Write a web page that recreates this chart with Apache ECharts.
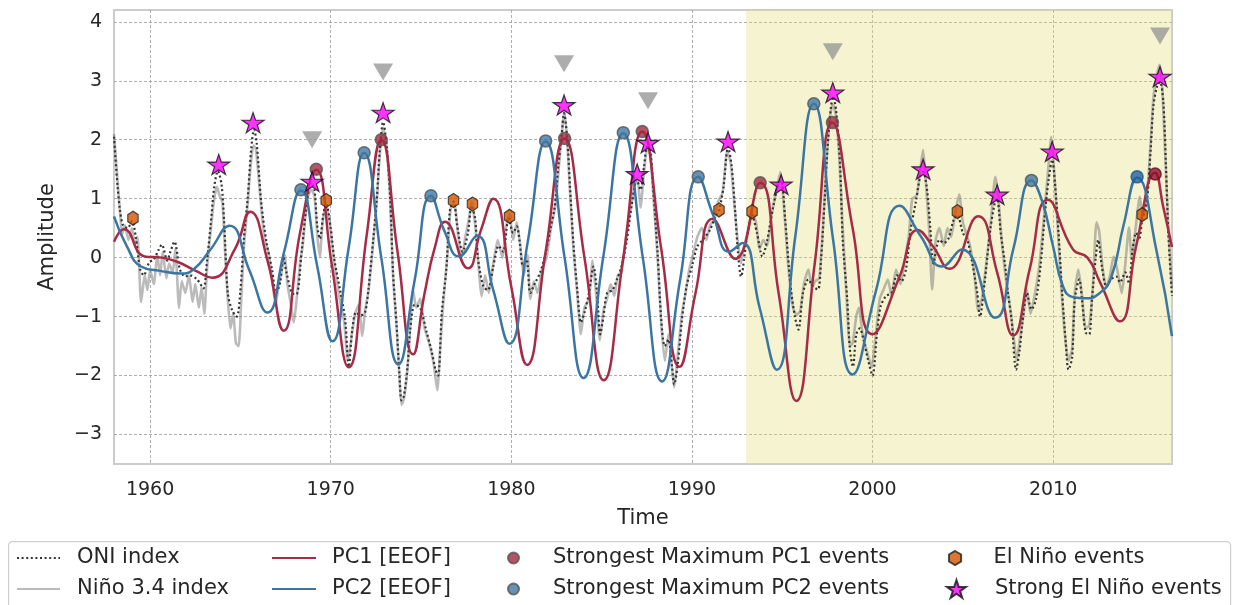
<!DOCTYPE html>
<html>
<head>
<meta charset="utf-8">
<title>ENSO EEOF principal components</title>
<script src="https://cdn.jsdelivr.net/npm/echarts@6/dist/echarts.min.js"></script>
<style>
  html, body { margin: 0; padding: 0; background: #fff; }
  #chart { width: 1233px; height: 605px; }
</style>
</head>
<body>
<div id="chart"></div>
<script>
// all series are [year, amplitude] pairs
const oniIndex = [
  [1958.0,2.05],[1958.2,1.2],[1958.33,0.81],[1958.5,0.55],[1958.75,0.5],[1959.0,0.62],[1959.2,0.36],[1959.45,-0.2],
  [1959.65,-0.3],[1959.95,-0.08],[1960.2,-0.03],[1960.45,0.12],[1960.65,0.22],[1960.95,-0.05],[1961.1,0.08],[1961.35,0.27],
  [1961.65,-0.2],[1961.95,-0.32],[1962.2,-0.3],[1962.6,-0.37],[1962.95,-0.52],[1963.15,-0.05],[1963.35,0.55],[1963.55,1.2],
  [1963.75,1.47],[1963.95,1.25],[1964.1,0.6],[1964.3,-0.6],[1964.55,-0.9],[1964.8,-1.0],[1965.0,-0.55],[1965.2,0.35],
  [1965.4,1.0],[1965.6,1.85],[1965.75,2.17],[1965.9,1.95],[1966.15,0.95],[1966.45,0.25],[1966.75,-0.2],[1966.97,-0.6],
  [1967.2,-0.42],[1967.38,0.0],[1967.55,-0.25],[1967.85,-0.6],[1968.1,-0.62],[1968.4,0.14],[1968.7,0.98],[1968.92,1.27],
  [1969.1,1.15],[1969.25,0.55],[1969.4,0.32],[1969.6,0.75],[1969.75,0.92],[1970.0,0.5],[1970.2,-0.03],[1970.55,-0.6],
  [1970.8,-1.05],[1971.0,-1.85],[1971.2,-1.2],[1971.4,-0.93],[1971.65,-0.98],[1971.9,-0.93],[1972.1,-0.5],[1972.35,0.3],
  [1972.55,0.98],[1972.72,1.83],[1972.9,2.3],[1973.1,1.9],[1973.3,0.98],[1973.45,-0.25],[1973.65,-1.15],[1973.8,-1.95],
  [1973.92,-2.42],[1974.05,-2.35],[1974.25,-1.86],[1974.4,-1.22],[1974.65,-0.8],[1974.95,-0.85],[1975.3,-1.25],[1975.6,-1.6],
  [1975.8,-1.9],[1975.95,-2.0],[1976.15,-0.93],[1976.4,-0.2],[1976.6,0.8],[1976.8,0.95],[1977.0,0.55],[1977.3,0.1],
  [1977.6,0.42],[1977.8,0.88],[1978.0,0.65],[1978.15,0.0],[1978.45,-0.49],[1978.7,-0.55],[1979.0,-0.15],[1979.3,0.2],
  [1979.55,0.1],[1979.85,0.68],[1980.1,0.42],[1980.3,0.53],[1980.45,0.3],[1980.65,-0.15],[1980.85,-0.03],[1981.05,-0.6],
  [1981.3,-0.44],[1981.6,-0.25],[1981.9,0.08],[1982.15,0.47],[1982.4,0.86],[1982.6,1.55],[1982.78,2.05],[1982.92,2.45],
  [1983.1,2.0],[1983.25,1.2],[1983.45,0.19],[1983.65,-0.54],[1983.85,-1.1],[1984.05,-0.93],[1984.3,-0.6],[1984.55,-0.15],
  [1984.75,-0.6],[1984.92,-1.3],[1985.1,-1.0],[1985.3,-0.6],[1985.6,-0.55],[1985.85,-0.37],[1986.1,-0.15],[1986.4,0.3],
  [1986.65,0.86],[1986.95,1.32],[1987.15,1.15],[1987.35,1.55],[1987.52,1.88],[1987.7,1.8],[1987.85,1.2],[1988.1,0.08],
  [1988.3,-1.05],[1988.5,-1.5],[1988.7,-1.39],[1988.9,-1.85],[1989.02,-2.15],[1989.2,-1.85],[1989.45,-1.05],[1989.7,-0.49],
  [1990.0,-0.15],[1990.3,0.19],[1990.6,0.3],[1991.0,0.47],[1991.3,0.7],[1991.5,0.8],[1991.75,1.2],[1992.0,1.88],
  [1992.2,1.55],[1992.4,0.76],[1992.55,0.08],[1992.72,-0.32],[1993.05,0.35],[1993.33,0.72],[1993.6,0.42],[1993.9,0.02],
  [1994.15,0.27],[1994.5,0.86],[1994.8,1.27],[1994.95,1.3],[1995.15,0.7],[1995.45,-0.44],[1995.7,-1.0],[1995.9,-1.22],
  [1996.15,-0.6],[1996.45,-0.37],[1996.7,-0.49],[1996.98,-0.54],[1997.15,-0.03],[1997.35,0.98],[1997.5,1.83],[1997.7,2.56],
  [1997.82,2.73],[1997.98,2.5],[1998.2,1.6],[1998.35,0.3],[1998.6,-0.71],[1998.75,-1.56],[1998.92,-1.85],[1999.1,-1.3],
  [1999.3,-1.2],[1999.5,-1.39],[1999.75,-1.73],[2000.0,-2.0],[2000.25,-1.27],[2000.45,-0.83],[2000.75,-0.65],[2001.05,-0.6],
  [2001.35,-0.3],[2001.6,-0.4],[2001.85,-0.2],[2002.1,0.45],[2002.4,0.95],[2002.65,1.4],[2002.8,1.45],[2003.0,1.2],
  [2003.2,0.5],[2003.37,-0.1],[2003.7,0.3],[2003.95,0.25],[2004.2,0.32],[2004.5,0.65],[2004.7,0.72],[2005.0,0.42],
  [2005.25,0.3],[2005.5,-0.05],[2005.8,-0.6],[2005.95,-1.0],[2006.2,-0.44],[2006.5,0.42],[2006.75,0.9],[2006.9,1.0],
  [2007.1,0.42],[2007.35,-0.15],[2007.5,-0.6],[2007.7,-1.05],[2007.95,-1.9],[2008.15,-1.56],[2008.3,-1.1],[2008.55,-0.6],
  [2008.8,-0.88],[2009.05,-0.71],[2009.3,-0.15],[2009.55,0.76],[2009.75,1.32],[2009.95,1.66],[2010.1,1.27],[2010.3,0.42],
  [2010.5,-0.6],[2010.7,-1.44],[2010.85,-1.9],[2011.05,-1.7],[2011.2,-0.71],[2011.45,-0.37],[2011.6,-0.71],[2011.8,-1.27],
  [2012.0,-1.3],[2012.15,-0.71],[2012.35,-0.03],[2012.5,0.3],[2012.7,-0.15],[2012.95,-0.49],[2013.2,-0.37],[2013.5,-0.32],
  [2013.7,-0.42],[2014.0,-0.25],[2014.2,-0.44],[2014.4,0.14],[2014.6,0.42],[2014.75,0.3],[2014.93,0.62],[2015.2,0.98],
  [2015.4,1.83],[2015.55,2.56],[2015.75,2.9],[2015.92,2.98],[2016.1,2.65],[2016.25,1.55],[2016.38,0.42],[2016.58,-0.65]
];

const nino34Index = [
  [1958.0,2.1],[1958.15,1.5],[1958.3,0.9],[1958.45,0.4],[1958.6,0.55],[1958.8,0.3],[1959.0,0.5],[1959.15,0.2],
  [1959.3,0.35],[1959.5,-0.75],[1959.7,-0.3],[1959.85,-0.55],[1960.0,-0.2],[1960.2,-0.45],[1960.4,0.05],[1960.55,-0.3],
  [1960.7,0.1],[1960.9,-0.35],[1961.05,-0.1],[1961.25,-0.25],[1961.4,0.15],[1961.6,-0.85],[1961.75,-0.4],[1961.95,-0.6],
  [1962.15,-0.3],[1962.35,-0.75],[1962.5,-0.45],[1962.7,-0.85],[1962.85,-0.5],[1963.0,-0.95],[1963.15,-0.2],[1963.35,0.45],
  [1963.55,1.0],[1963.7,1.2],[1963.85,1.05],[1964.0,0.95],[1964.15,0.1],[1964.3,-0.7],[1964.45,-1.2],[1964.6,-0.95],
  [1964.75,-1.45],[1964.9,-1.5],[1965.05,-0.7],[1965.2,0.2],[1965.4,0.9],[1965.55,1.5],[1965.72,1.9],[1965.85,1.85],
  [1966.0,1.4],[1966.15,0.85],[1966.35,0.3],[1966.55,0.1],[1966.75,-0.35],[1966.95,-0.8],[1967.1,-0.5],[1967.3,-0.2],
  [1967.45,0.05],[1967.6,-0.45],[1967.8,-0.8],[1967.95,-1.1],[1968.1,-0.75],[1968.3,-0.1],[1968.45,0.2],[1968.6,0.7],
  [1968.75,1.05],[1968.92,1.15],[1969.1,1.05],[1969.25,0.4],[1969.4,0.02],[1969.55,0.6],[1969.75,0.9],[1970.0,0.45],
  [1970.2,-0.1],[1970.5,-0.7],[1970.75,-1.1],[1970.95,-1.75],[1971.15,-1.35],[1971.35,-0.95],[1971.55,-0.8],[1971.75,-1.33],
  [1971.9,-0.9],[1972.1,-0.55],[1972.35,0.25],[1972.55,0.95],[1972.72,1.75],[1972.9,2.2],[1973.1,1.85],[1973.3,0.9],
  [1973.45,-0.3],[1973.65,-1.2],[1973.8,-2.0],[1973.92,-2.5],[1974.05,-2.4],[1974.25,-1.9],[1974.4,-1.2],[1974.55,-0.55],
  [1974.75,-0.85],[1974.95,-0.7],[1975.2,-1.2],[1975.45,-1.45],[1975.7,-1.8],[1975.9,-2.25],[1976.05,-1.6],[1976.25,-0.7],
  [1976.45,0.0],[1976.65,0.85],[1976.85,0.9],[1977.05,0.4],[1977.25,0.0],[1977.45,0.35],[1977.65,0.65],[1977.8,0.95],
  [1978.0,0.55],[1978.2,-0.2],[1978.35,-0.66],[1978.55,-0.3],[1978.75,-0.6],[1979.0,-0.1],[1979.25,0.3],[1979.5,0.0],
  [1979.7,0.5],[1979.9,0.75],[1980.1,0.3],[1980.3,0.6],[1980.5,0.2],[1980.7,-0.3],[1980.9,0.05],[1981.05,-0.7],
  [1981.25,-0.4],[1981.45,-0.6],[1981.7,-0.2],[1981.95,0.0],[1982.2,0.5],[1982.45,0.9],[1982.65,1.6],[1982.8,2.1],
  [1982.93,2.5],[1983.1,1.95],[1983.25,1.1],[1983.45,0.1],[1983.65,-0.6],[1983.85,-1.3],[1984.05,-0.85],[1984.3,-0.7],
  [1984.5,-0.05],[1984.7,-0.65],[1984.9,-1.4],[1985.1,-0.9],[1985.3,-0.7],[1985.5,-0.45],[1985.7,-0.65],[1985.9,-0.3],
  [1986.1,-0.25],[1986.35,0.35],[1986.6,0.8],[1986.85,1.25],[1987.0,1.3],[1987.15,0.85],[1987.35,1.45],[1987.52,1.85],
  [1987.7,1.75],[1987.85,1.1],[1988.1,0.0],[1988.3,-1.1],[1988.5,-1.75],[1988.7,-1.3],[1988.9,-1.9],[1989.02,-2.2],
  [1989.2,-1.7],[1989.45,-0.95],[1989.65,-0.6],[1989.85,-0.2],[1990.1,0.1],[1990.3,0.35],[1990.55,0.5],[1990.8,0.3],
  [1991.0,0.55],[1991.25,0.65],[1991.45,0.95],[1991.7,1.1],[1991.95,1.8],[1992.15,1.6],[1992.35,0.9],[1992.55,0.25],
  [1992.72,-0.1],[1992.9,0.2],[1993.1,0.45],[1993.33,0.75],[1993.55,0.6],[1993.75,0.15],[1993.95,0.3],[1994.15,0.2],
  [1994.4,0.7],[1994.65,1.1],[1994.9,1.45],[1995.1,0.85],[1995.35,-0.2],[1995.6,-0.85],[1995.8,-0.97],[1996.0,-0.9],
  [1996.2,-0.45],[1996.45,-0.2],[1996.65,-0.5],[1996.85,-0.39],[1997.05,-0.35],[1997.25,0.5],[1997.45,1.6],[1997.65,2.4],
  [1997.8,2.6],[1997.95,2.45],[1998.15,1.75],[1998.35,0.5],[1998.55,-0.6],[1998.75,-1.5],[1998.9,-1.45],[1999.1,-1.0],
  [1999.25,-0.85],[1999.45,-1.3],[1999.7,-1.6],[1999.95,-1.85],[2000.15,-1.4],[2000.4,-0.7],[2000.6,-0.55],[2000.85,-0.37],
  [2001.05,-0.65],[2001.3,-0.2],[2001.55,-0.45],[2001.75,-0.1],[2002.0,0.35],[2002.2,1.0],[2002.45,1.05],[2002.65,1.5],
  [2002.8,1.83],[2002.95,1.3],[2003.15,0.4],[2003.3,-0.54],[2003.5,0.3],[2003.7,0.5],[2003.95,0.2],[2004.15,0.5],
  [2004.35,0.35],[2004.6,0.8],[2004.8,1.07],[2005.0,0.6],[2005.2,0.4],[2005.4,0.2],[2005.65,-0.3],[2005.85,-0.9],
  [2006.05,-0.7],[2006.3,-0.1],[2006.55,0.6],[2006.8,1.37],[2006.95,1.1],[2007.15,0.3],[2007.4,-0.4],[2007.6,-0.8],
  [2007.8,-1.3],[2007.98,-1.75],[2008.15,-1.4],[2008.35,-1.0],[2008.55,-0.55],[2008.75,-0.95],[2009.0,-0.6],[2009.25,-0.1],
  [2009.5,0.7],[2009.7,1.4],[2009.9,2.05],[2010.05,1.5],[2010.25,0.55],[2010.45,-0.5],[2010.65,-1.3],[2010.85,-1.75],
  [2011.05,-1.55],[2011.2,-0.6],[2011.4,-0.2],[2011.6,-0.65],[2011.8,-1.2],[2012.0,-1.15],[2012.2,-0.5],[2012.4,0.6],
  [2012.55,0.45],[2012.75,-0.2],[2012.95,-0.5],[2013.15,-0.3],[2013.35,0.02],[2013.55,-0.2],[2013.8,-0.6],[2014.0,-0.1],
  [2014.2,0.51],[2014.35,0.0],[2014.55,0.45],[2014.8,1.03],[2014.95,0.7],[2015.2,1.05],[2015.4,1.95],[2015.55,2.7],
  [2015.75,3.1],[2015.9,3.27],[2016.05,2.85],[2016.2,1.8],[2016.38,0.5],[2016.58,-0.5]
];

const pc1 = [
  [1958.0,0.27],[1958.55,0.48],[1959.7,0.02],[1960.65,0.0],[1961.5,-0.07],[1962.5,-0.22],[1963.45,-0.34],[1964.7,0.15],
  [1965.55,0.78],[1966.5,-0.05],[1967.4,-1.24],[1968.3,0.42],[1969.2,1.49],[1970.05,-0.1],[1971.0,-1.86],[1972.0,0.4],
  [1972.8,2.0],[1973.7,0.1],[1974.56,-1.64],[1975.2,-0.6],[1975.78,0.19],[1976.33,0.61],[1977.6,-0.18],[1978.3,0.45],
  [1979.0,1.0],[1980.0,-0.5],[1980.87,-1.82],[1981.9,0.1],[1982.95,2.02],[1984.05,0.0],[1985.12,-2.08],[1986.2,0.0],
  [1987.25,2.14],[1988.3,0.15],[1989.32,-1.85],[1990.2,-0.6],[1991.15,0.66],[1992.4,-0.02],[1993.78,1.27],[1994.8,-0.6],
  [1995.78,-2.43],[1996.8,-0.1],[1997.78,2.29],[1998.9,0.5],[2000.0,-1.3],[2001.5,-0.32],[2002.5,0.47],[2003.35,0.19],
  [2004.25,-0.19],[2005.85,0.7],[2006.9,-0.25],[2007.8,-1.32],[2008.7,-0.2],[2009.7,0.98],[2011.1,0.14],[2011.9,0.0],
  [2012.6,-0.42],[2013.7,-1.08],[2014.6,0.2],[2015.65,1.44],[2016.1,0.86],[2016.58,0.18]
];

const pc2 = [
  [1958.0,0.7],[1958.7,0.2],[1959.5,-0.15],[1960.5,-0.22],[1961.7,-0.27],[1962.4,-0.2],[1963.3,0.12],[1964.4,0.54],
  [1965.5,-0.22],[1966.5,-0.93],[1967.42,0.1],[1968.35,1.14],[1969.25,-0.14],[1970.1,-1.42],[1971.0,0.18],[1971.85,1.78],
  [1972.8,0.0],[1973.75,-1.81],[1974.65,-0.38],[1975.55,1.05],[1976.3,0.45],[1977.1,0.02],[1978.1,0.37],[1979.0,-0.55],
  [1979.9,-1.46],[1980.9,0.25],[1981.9,1.97],[1982.95,0.0],[1984.0,-2.04],[1985.1,0.03],[1986.2,2.11],[1987.28,0.0],
  [1988.35,-2.1],[1989.35,-0.37],[1990.35,1.37],[1991.2,0.7],[1992.05,0.1],[1992.8,0.25],[1993.75,-0.85],[1994.7,-1.9],
  [1995.72,0.35],[1996.75,2.61],[1997.82,0.3],[1998.9,-1.98],[2000.2,-0.55],[2001.5,0.88],[2002.7,0.35],[2003.85,-0.15],
  [2004.95,0.14],[2006.8,-1.02],[2007.8,0.15],[2008.8,1.31],[2009.4,0.95],[2010.0,0.19],[2010.55,-0.49],[2011.1,-0.67],
  [2011.8,-0.69],[2012.5,-0.62],[2013.2,-0.35],[2013.9,0.55],[2014.65,1.36],[2015.75,0.08],[2016.58,-1.33]
];

const pc1MaxEvents = [[1969.2,1.5],[1972.8,2.0],[1982.95,2.02],[1987.25,2.14],[1993.78,1.27],[1997.78,2.29],[2015.65,1.42]];
const pc2MaxEvents = [[1968.35,1.15],[1971.85,1.78],[1975.55,1.05],[1981.9,1.98],[1986.2,2.12],[1990.35,1.37],[1996.75,2.61],[2008.8,1.31],[2014.65,1.37]];
const elNinoEvents = [[1959.05,0.67],[1969.75,0.97],[1976.8,0.97],[1977.85,0.91],[1979.9,0.7],[1991.5,0.81],[1993.33,0.78],[2004.7,0.78],[2014.93,0.73]];
const strongElNinoEvents = [[1963.8,1.58],[1965.7,2.29],[1968.97,1.29],[1972.9,2.46],[1982.92,2.59],[1986.97,1.42],[1987.57,1.95],
  [1992.0,1.97],[1994.94,1.24],[1997.8,2.8],[2002.8,1.5],[2006.9,1.07],[2009.95,1.8],[2015.92,3.07]];
const greyTriangles = [[1968.97,2.0],[1972.9,3.15],[1982.92,3.29],[1987.57,2.66],[1997.8,3.49],[2015.92,3.76]];

const xTickLabels = [1960, 1970, 1980, 1990, 2000, 2010];
const yTickLabels = [-3, -2, -1, 0, 1, 2, 3, 4];
const shadeStart = 1993;

const FONT = 'DejaVu Sans';
const TXT = '#262626';
const HEX = 'path://M0,-1L0.866,-0.5L0.866,0.5L0,1L-0.866,0.5L-0.866,-0.5Z';
const STAR = 'path://M0,-1L0.2245,-0.309L0.9511,-0.309L0.3633,0.118L0.5878,0.809L0,0.382L-0.5878,0.809L-0.3633,0.118L-0.9511,-0.309L-0.2245,-0.309Z';

// one legend per entry so each handle can sit where matplotlib put it
function legendItem(name, left, top, w, h, pad, lineOnly) {
  const lg = {
    data: [name],
    left: left,
    top: top,
    padding: 0,
    itemGap: 0,
    itemWidth: w,
    itemHeight: h,
    selectedMode: false,
    textStyle: { fontSize: 21, color: TXT, fontFamily: FONT, lineHeight: 24, padding: [0, 0, 0, pad] }
  };
  if (lineOnly) {
    // hide the little symbol echarts puts in the middle of a line handle
    lg.itemStyle = { color: 'rgba(0,0,0,0)', borderColor: 'rgba(0,0,0,0)', borderWidth: 0, opacity: 0 };
  }
  return lg;
}

const chart = echarts.init(document.getElementById('chart'), null, { renderer: 'canvas' });

const option = {
  animation: false,
  backgroundColor: '#fff',
  textStyle: { fontFamily: FONT },
  grid: {
    left: 114, top: 10, width: 1058, height: 454,
    show: true, backgroundColor: '#fff', borderColor: '#cccccc', borderWidth: 2
  },
  xAxis: {
    type: 'value',
    min: 1958, max: 2016.583, interval: 2,
    name: 'Time', nameLocation: 'middle', nameGap: 44,
    nameTextStyle: { fontSize: 21, color: TXT, fontFamily: FONT },
    axisLine: { show: false },
    axisTick: { show: false },
    axisLabel: {
      fontSize: 19, color: TXT, fontFamily: FONT, margin: 17,
      formatter: function (v) {
        const r = Math.round(v);
        return (Math.abs(v - r) < 1e-6 && xTickLabels.indexOf(r) >= 0) ? String(r) : '';
      }
    },
    splitLine: {
      show: true,
      lineStyle: { color: ['rgba(0,0,0,0)', '#9a9a9a', 'rgba(0,0,0,0)', 'rgba(0,0,0,0)', 'rgba(0,0,0,0)'], width: 0.8, type: [3, 2] }
    }
  },
  yAxis: {
    type: 'value',
    min: -3.5, max: 4.2, interval: 0.5,
    name: 'Amplitude', nameLocation: 'middle', nameGap: 56,
    nameTextStyle: { fontSize: 21, color: TXT, fontFamily: FONT },
    axisLine: { show: false },
    axisTick: { show: false },
    axisLabel: {
      fontSize: 19, color: TXT, fontFamily: FONT, margin: 12,
      formatter: function (v) {
        const r = Math.round(v);
        if (Math.abs(v - r) > 1e-6 || yTickLabels.indexOf(r) < 0) return '';
        return r < 0 ? '\u2212' + Math.abs(r) : String(r);
      }
    },
    splitLine: {
      show: true,
      lineStyle: { color: ['rgba(0,0,0,0)', '#9a9a9a'], width: 0.8, type: [3, 2] }
    }
  },
  legend: [
    legendItem('ONI index', 16, 546, 43, 14, 12, true),
    legendItem('Niño 3.4 index', 16, 577, 43, 14, 12, true),
    legendItem('PC1 [EEOF]', 271, 546, 44, 14, 11, true),
    legendItem('PC2 [EEOF]', 271, 577, 44, 14, 11, true),
    legendItem('Strongest Maximum PC1 events', 507, 546, 43, 11, 13),
    legendItem('Strongest Maximum PC2 events', 507, 577, 43, 11, 13),
    legendItem('El Niño events', 948, 546, 43, 14, 12),
    legendItem('Strong El Niño events', 946, 577, 43, 18, 12)
  ],
  graphic: [{
    type: 'rect', left: 8, top: 541, z: -10,
    shape: { width: 1222, height: 80, r: 4 },
    style: { fill: '#fff', stroke: '#d0d0d0', lineWidth: 1.2 }
  }],
  series: [
    {
      name: 'Niño 3.4 index', type: 'line', data: nino34Index, z: 2,
      symbol: 'none', showSymbol: false, smooth: 0.2,
      lineStyle: { color: 'rgba(120,120,120,0.5)', width: 2.6 },
      itemStyle: { color: '#bcbcbc' },
      markArea: {
        silent: true,
        itemStyle: { color: 'rgba(230,222,120,0.35)' },
        data: [[{ xAxis: shadeStart }, { xAxis: 2016.583 }]]
      }
    },
    {
      name: 'ONI index', type: 'line', data: oniIndex, z: 3,
      symbol: 'none', showSymbol: false, smooth: 0.3,
      lineStyle: { color: '#333333', width: 2.2, type: [2, 2.6], cap: 'butt' },
      itemStyle: { color: '#333333' }
    },
    {
      name: 'PC1 [EEOF]', type: 'line', data: pc1, z: 4,
      symbol: 'none', showSymbol: false, smooth: 0.5,
      lineStyle: { color: '#a62b46', width: 2.5 },
      itemStyle: { color: '#a62b46' }
    },
    {
      name: 'PC2 [EEOF]', type: 'line', data: pc2, z: 4,
      symbol: 'none', showSymbol: false, smooth: 0.5,
      lineStyle: { color: '#3b76a3', width: 2.5 },
      itemStyle: { color: '#3b76a3' }
    },
    {
      name: 'strong marks', type: 'scatter', data: greyTriangles, z: 5,
      symbol: 'triangle', symbolRotate: 180, symbolSize: [20, 17],
      itemStyle: { color: '#999999' }
    },
    {
      name: 'Strongest Maximum PC1 events', type: 'scatter', z: 6,
      data: pc1MaxEvents.map(function (p, i) {
        return i === pc1MaxEvents.length - 1 ? { value: p, itemStyle: { color: '#8e0f2c', borderColor: '#6a0a20' } } : p;
      }),
      symbol: 'circle', symbolSize: 12,
      itemStyle: { color: '#a3293f', borderColor: '#555', borderWidth: 1.5 }
    },
    {
      name: 'Strongest Maximum PC2 events', type: 'scatter', z: 6,
      data: pc2MaxEvents.map(function (p, i) {
        return i === pc2MaxEvents.length - 1 ? { value: p, itemStyle: { color: '#1f62a0', borderColor: '#1a5690' } } : p;
      }),
      symbol: 'circle', symbolSize: 12,
      itemStyle: { color: '#3f78a5', borderColor: '#555', borderWidth: 1.5 }
    },
    {
      name: 'El Niño events', type: 'scatter', data: elNinoEvents, z: 7,
      symbol: HEX, symbolSize: [12, 14], symbolKeepAspect: true,
      itemStyle: { color: '#d35400', borderColor: '#222', borderWidth: 1.2 }
    },
    {
      name: 'Strong El Niño events', type: 'scatter', data: strongElNinoEvents, z: 8,
      symbol: STAR, symbolSize: [22, 21], symbolKeepAspect: true,
      itemStyle: { color: '#ff00ff', borderColor: '#111', borderWidth: 1.2 }
    }
  ]
};

chart.setOption(option);
</script>
</body>
</html>
